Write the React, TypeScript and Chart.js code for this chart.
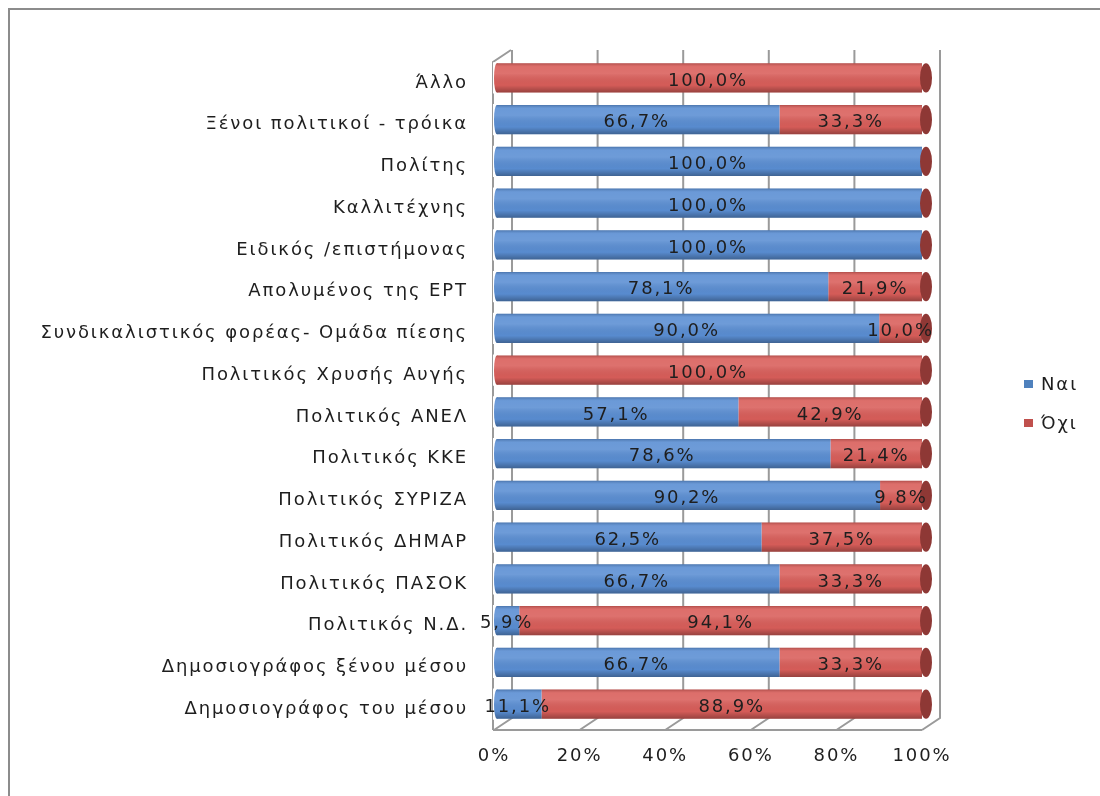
import React, { useEffect, useRef } from 'react';
import { Chart, registerables } from 'chart.js';
Chart.register(...registerables);

const categories = [
  'Άλλο',
  'Ξένοι πολιτικοί - τρόικα',
  'Πολίτης',
  'Καλλιτέχνης',
  'Ειδικός /επιστήμονας',
  'Απολυμένος της ΕΡΤ',
  'Συνδικαλιστικός φορέας- Ομάδα πίεσης',
  'Πολιτικός Χρυσής Αυγής',
  'Πολιτικός ΑΝΕΛ',
  'Πολιτικός ΚΚΕ',
  'Πολιτικός ΣΥΡΙΖΑ',
  'Πολιτικός ΔΗΜΑΡ',
  'Πολιτικός ΠΑΣΟΚ',
  'Πολιτικός Ν.Δ.',
  'Δημοσιογράφος ξένου μέσου',
  'Δημοσιογράφος του μέσου',
];
const naiValues = [0, 66.7, 100, 100, 100, 78.1, 90.0, 0, 57.1, 78.6, 90.2, 62.5, 66.7, 5.9, 66.7, 11.1];
const oxiValues = [100, 33.3, 0, 0, 0, 21.9, 10.0, 100, 42.9, 21.4, 9.8, 37.5, 33.3, 94.1, 33.3, 88.9];
const seriesNames = ['Ναι', 'Όχι'];
const xMin = 0;
const xMax = 100;
const xStep = 20;

const FONT = '"DejaVu Sans", Verdana, sans-serif';
const LETTER = '1.9px';
const TEXT = '#1e1e1e';
const barColors = ['#5A8ED3', '#D95E5A'];
const legendColors = ['#4F81BD', '#C0504D'];
const capColor = '#8E3835';
const gridColor = '#9a9a9a';

const fmt = (v: number) => v.toFixed(1).replace('.', ',') + '%';

const spacingPlugin = {
  id: 'spacing',
  beforeUpdate(chart: any) { chart.ctx.letterSpacing = LETTER; },
  beforeLayout(chart: any) { chart.ctx.letterSpacing = LETTER; },
  beforeDraw(chart: any) { chart.ctx.letterSpacing = LETTER; },
};

const boxPlugin = {
  id: 'box3d',
  beforeDatasetsDraw(chart: any) {
    const { ctx, chartArea } = chart;
    const xs = chart.scales.x;
    const dx = 18, dy = 12;
    const frontTop = chartArea.top + 5;
    const frontBottom = chartArea.bottom + 5;
    const backTop = frontTop - dy;
    const backBottom = frontBottom - dy;
    ctx.save();
    ctx.strokeStyle = gridColor;
    ctx.lineWidth = 2;
    const left = xs.getPixelForValue(xMin) - 1;
    ctx.beginPath();
    ctx.moveTo(left, frontBottom);
    ctx.lineTo(left, frontTop);
    ctx.lineTo(left + dx, backTop);
    ctx.stroke();
    const right = xs.getPixelForValue(xMax);
    ctx.beginPath();
    ctx.moveTo(left, frontBottom);
    ctx.lineTo(right, frontBottom);
    ctx.stroke();
    for (let v = xMin; v <= xMax; v += xStep) {
      const px = xs.getPixelForValue(v);
      ctx.beginPath();
      ctx.moveTo(px, frontBottom);
      ctx.lineTo(px + dx, backBottom);
      ctx.lineTo(px + dx, backTop);
      ctx.stroke();
    }
    ctx.restore();
  },
};

const barDecorPlugin = {
  id: 'barDecor',
  afterDatasetsDraw(chart: any) {
    const { ctx } = chart;
    const xs = chart.scales.x;
    const metas = chart.data.datasets.map((_: any, i: number) => chart.getDatasetMeta(i));
    ctx.save();
    const n = chart.data.labels.length;
    for (let j = 0; j < n; j++) {
      const el0 = metas[0].data[j];
      const y = el0.y;
      const h = el0.height;
      const top = y - h / 2;
      const x0 = xs.getPixelForValue(xMin);
      const x1 = xs.getPixelForValue(xMax);
      const firstIdx = chart.data.datasets[0].data[j] > 0 ? 0 : 1;
      ctx.fillStyle = '#ffffff';
      ctx.fillRect(x0 - 1, top - 1, 4, h + 2);
      ctx.fillStyle = barColors[firstIdx];
      ctx.beginPath();
      ctx.ellipse(x0 + 3, y, 3, h / 2, 0, 0, Math.PI * 2);
      ctx.fill();
      const g = ctx.createLinearGradient(0, top, 0, top + h);
      g.addColorStop(0, 'rgba(0,0,0,0.18)');
      g.addColorStop(0.12, 'rgba(255,255,255,0.10)');
      g.addColorStop(0.35, 'rgba(255,255,255,0.12)');
      g.addColorStop(0.75, 'rgba(0,0,0,0.02)');
      g.addColorStop(1, 'rgba(0,0,0,0.30)');
      ctx.fillStyle = g;
      ctx.beginPath();
      ctx.ellipse(x0 + 3, y, 3, h / 2, 0, Math.PI / 2, Math.PI * 1.5);
      ctx.rect(x0 + 3, top, x1 - x0 - 3, h);
      ctx.fill();
      ctx.fillStyle = capColor;
      ctx.beginPath();
      ctx.ellipse(x1 + 4, y, 6, h / 2, 0, 0, Math.PI * 2);
      ctx.fill();
    }
    ctx.letterSpacing = LETTER;
    ctx.font = `18px ${FONT}`;
    ctx.fillStyle = TEXT;
    ctx.textAlign = 'center';
    ctx.textBaseline = 'middle';
    metas.forEach((meta: any, di: number) => {
      const data = chart.data.datasets[di].data;
      meta.data.forEach((el: any, j: number) => {
        const v = data[j];
        if (!v) return;
        const cx = (el.x + el.base) / 2;
        ctx.fillText(fmt(v), cx, el.y + 3);
      });
    });
    ctx.restore();
  },
  afterDraw(chart: any) {
    const { ctx } = chart;
    ctx.save();
    ctx.letterSpacing = LETTER;
    ctx.font = `18px ${FONT}`;
    ctx.textAlign = 'left';
    ctx.textBaseline = 'middle';
    const ys = [384, 423];
    seriesNames.forEach((name, i) => {
      ctx.fillStyle = legendColors[i];
      ctx.fillRect(1024, ys[i] - 4, 9, 8);
      ctx.fillStyle = TEXT;
      ctx.fillText(name, 1041, ys[i] + 1);
    });
    ctx.restore();
  },
};

export default function App() {
  const ref = useRef<HTMLCanvasElement | null>(null);
  useEffect(() => {
    if (!ref.current) return;
    const chart = new Chart(ref.current, {
      type: 'bar',
      data: {
        labels: categories,
        datasets: [
          { label: seriesNames[0], data: naiValues, backgroundColor: barColors[0], borderWidth: 0 },
          { label: seriesNames[1], data: oxiValues, backgroundColor: barColors[1], borderWidth: 0 },
        ],
      },
      options: {
        indexAxis: 'y',
        responsive: false,
        animation: false,
        devicePixelRatio: 1,
        datasets: { bar: { categoryPercentage: 1, barPercentage: 0.7 } },
        layout: { padding: { top: 57, right: 178, bottom: 0, left: 0 } },
        plugins: { legend: { display: false }, tooltip: { enabled: false } },
        scales: {
          x: {
            stacked: true,
            min: xMin,
            max: xMax,
            grid: { display: false, drawTicks: false },
            border: { display: false },
            ticks: {
              stepSize: xStep,
              callback: (v: any) => v + '%',
              font: { family: FONT, size: 18 },
              color: TEXT,
              padding: 21,
              maxRotation: 0,
            },
            afterFit: (s: any) => { s.height = 71; },
          },
          y: {
            stacked: true,
            grid: { display: false, drawTicks: false },
            border: { display: false },
            ticks: {
              font: { family: FONT, size: 18 },
              color: TEXT,
              padding: 26,
              labelOffset: 5,
              autoSkip: false,
            },
            afterFit: (s: any) => { s.width = 494; },
          },
        },
      } as any,
      plugins: [spacingPlugin, boxPlugin, barDecorPlugin],
    });
    return () => chart.destroy();
  }, []);
  return (
    <div style={{ position: 'fixed', left: 0, top: 0, width: 1100, height: 796, background: '#fff', overflow: 'hidden' }}>
      <div style={{ position: 'absolute', left: 8, top: 8, width: 1092, height: 788, borderTop: '2px solid #8c8c8c', borderLeft: '2px solid #8c8c8c', boxSizing: 'border-box' }} />
      <canvas ref={ref} width={1100} height={796} style={{ position: 'absolute', left: 0, top: 0, width: 1100, height: 796 }} />
    </div>
  );
}
